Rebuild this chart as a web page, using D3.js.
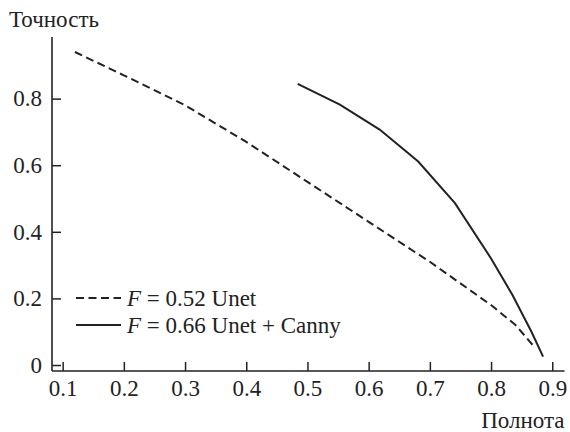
<!DOCTYPE html>
<html>
<head>
<meta charset="utf-8">
<script src="https://cdn.jsdelivr.net/npm/d3@7"></script>
<style>
  body { margin: 0; font-family: "Liberation Serif"; }
  svg text { font-family: "Liberation Serif" !important; font-size: 23px !important; fill: #222; }
</style>
</head>
<body>
<script>
// Data
var recallUnet    = [0.12, 0.20, 0.30, 0.40, 0.50, 0.60, 0.70, 0.80, 0.84, 0.868];
var precisionUnet = [0.94, 0.87, 0.78, 0.67, 0.55, 0.43, 0.31, 0.18, 0.12, 0.06];
var recallCanny    = [0.484, 0.553, 0.618, 0.681, 0.741, 0.80, 0.835, 0.866, 0.885];
var precisionCanny = [0.844, 0.782, 0.707, 0.611, 0.486, 0.32, 0.21, 0.10, 0.025];
var xTicks = [0.1, 0.2, 0.3, 0.4, 0.5, 0.6, 0.7, 0.8, 0.9];
var yTicks = [0, 0.2, 0.4, 0.6, 0.8];
var legendLabels = [" = 0.52 Unet", " = 0.66 Unet + Canny"];

var W = 570, H = 432,
	ink = "#222";

var svg = d3.select("body")
	.append("svg")
	.attr("width", W)
	.attr("height", H)
	.attr("font-family", "Liberation Serif")
	.attr("font-size", 23);

var x = d3.scaleLinear().domain([0.0826, 0.92]).range([52, 564.5]);
var y = d3.scaleLinear().domain([-0.018, 0.985]).range([371, 37]);

var fmt = function(d) { return d === 0 ? "0" : d3.format(".1f")(d); };

function styleAxis(g) {
	g.attr("font-family", null).attr("font-size", null);
	g.select(".domain").remove();
	g.selectAll(".tick line").attr("stroke", ink).attr("stroke-width", 1.5);
	g.selectAll(".tick text").attr("fill", ink);
}

// Y axis
svg.append("g")
	.attr("transform", "translate(" + x.range()[0] + ",0)")
	.call(d3.axisLeft(y).tickValues(yTicks).tickSize(-9).tickPadding(10).tickFormat(fmt))
	.call(styleAxis);

// X axis
svg.append("g")
	.attr("transform", "translate(0," + y.range()[0] + ")")
	.call(d3.axisBottom(x).tickValues(xTicks).tickSize(-9).tickPadding(9).tickFormat(fmt))
	.call(styleAxis);

// axis lines
svg.append("line")
	.attr("x1", x.range()[0]).attr("x2", x.range()[0])
	.attr("y1", y.range()[1]).attr("y2", y.range()[0])
	.attr("stroke", ink).attr("stroke-width", 1.6);
svg.append("line")
	.attr("x1", x.range()[0]).attr("x2", x.range()[1])
	.attr("y1", y.range()[0]).attr("y2", y.range()[0])
	.attr("stroke", ink).attr("stroke-width", 1.6);

// axis titles
svg.append("text")
	.attr("x", 9)
	.attr("y", 27)
	.text("Точность");
svg.append("text")
	.attr("x", x.range()[1])
	.attr("y", 428)
	.attr("text-anchor", "end")
	.text("Полнота");

// Curves
var line = d3.line()
	.x(function(d) { return x(d[0]); })
	.y(function(d) { return y(d[1]); });

svg.append("path")
	.attr("d", line(d3.zip(recallUnet, precisionUnet)))
	.attr("fill", "none")
	.attr("stroke", ink)
	.attr("stroke-width", 2)
	.attr("stroke-dasharray", "8,4.5");

svg.append("path")
	.attr("d", line(d3.zip(recallCanny, precisionCanny)))
	.attr("fill", "none")
	.attr("stroke", ink)
	.attr("stroke-width", 2);

// Legend
var legendY = [298, 325];
var dashes = ["8,4.5", null];
legendLabels.forEach(function(lbl, i) {
	svg.append("line")
		.attr("x1", 76).attr("x2", 121)
		.attr("y1", legendY[i]).attr("y2", legendY[i])
		.attr("stroke", ink)
		.attr("stroke-width", 2)
		.attr("stroke-dasharray", dashes[i]);
	var t = svg.append("text")
		.attr("x", 127)
		.attr("y", legendY[i] + 8);
	t.append("tspan").attr("font-style", "italic").text("F");
	t.append("tspan").text(lbl);
});
</script>
</body>
</html>
